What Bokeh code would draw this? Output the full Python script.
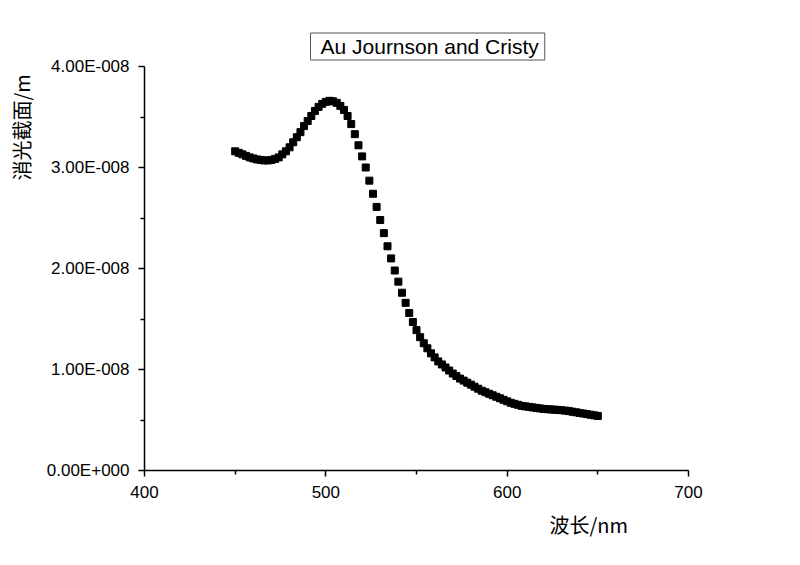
from bokeh.plotting import figure
from bokeh.models import (Range1d, FixedTicker, CustomJSTickFormatter, Title,
                          ColumnDataSource)
from bokeh.embed import file_html
from bokeh.resources import INLINE

# ---------------- data ----------------
wavelength_nm = list(range(450, 652, 2))
extinction_1e8 = [
    3.16, 3.145, 3.13, 3.115, 3.10, 3.09, 3.08, 3.075, 3.07, 3.07,
    3.075, 3.085, 3.10, 3.13, 3.16, 3.20, 3.25, 3.30, 3.35, 3.41,
    3.46, 3.51, 3.56, 3.60, 3.63, 3.65, 3.66, 3.655, 3.64, 3.61,
    3.57, 3.51, 3.43, 3.33, 3.22, 3.11, 3.00, 2.87, 2.74, 2.61,
    2.48, 2.35, 2.22, 2.10, 1.98, 1.87, 1.76, 1.66, 1.56, 1.47,
    1.39, 1.32, 1.26, 1.21, 1.16, 1.12, 1.08, 1.05, 1.02, 0.99,
    0.96, 0.935, 0.91, 0.89, 0.87, 0.85, 0.83, 0.81, 0.79, 0.775,
    0.76, 0.745, 0.73, 0.715, 0.70, 0.685, 0.67, 0.66, 0.65, 0.64,
    0.635, 0.63, 0.625, 0.62, 0.615, 0.61, 0.607, 0.605, 0.602, 0.60,
    0.597, 0.593, 0.588, 0.582, 0.576, 0.57, 0.564, 0.558, 0.552, 0.546,
    0.54,
]
extinction_m = [v * 1e-8 for v in extinction_1e8]

x_major_ticks = [400, 500, 600, 700]
x_minor_ticks = [450, 550, 650]
y_major_ticks = [0, 1e-8, 2e-8, 3e-8, 4e-8]
y_minor_ticks = [0.5e-8, 1.5e-8, 2.5e-8, 3.5e-8]

title_text = "Au Journson and Cristy"
x_label_text = "波长/nm"
y_label_text = "消光截面/m"

# ---------------- figure ----------------
p = figure(width=792, height=557, output_backend="svg", toolbar_location=None,
           x_range=Range1d(400, 700), y_range=Range1d(0, 4e-8),
           min_border_left=144, min_border_right=104,
           min_border_top=66, min_border_bottom=87)
p.outline_line_color = None
p.xgrid.grid_line_color = None
p.ygrid.grid_line_color = None
p.background_fill_color = "white"
p.border_fill_color = "white"

src = ColumnDataSource(dict(x=wavelength_nm, y=extinction_m))
p.scatter("x", "y", source=src, marker="square", size=7,
          fill_color="black", line_color="black")

for ax in (p.xaxis[0], p.yaxis[0]):
    ax.axis_line_width = 1.5
    ax.axis_line_color = "black"
    ax.major_tick_line_width = 1.5
    ax.minor_tick_line_width = 1.5
    ax.major_tick_line_color = "black"
    ax.minor_tick_line_color = "black"
    ax.major_tick_in = 0
    ax.major_tick_out = 6
    ax.minor_tick_in = 0
    ax.minor_tick_out = 4
    ax.major_label_text_font = "Liberation Sans"
    ax.major_label_text_font_size = "17px"
    ax.major_label_text_color = "black"

p.xaxis[0].ticker = FixedTicker(ticks=x_major_ticks, minor_ticks=x_minor_ticks)
p.yaxis[0].ticker = FixedTicker(ticks=y_major_ticks, minor_ticks=y_minor_ticks)
p.xaxis[0].major_label_standoff = 9
p.yaxis[0].major_label_standoff = 9

p.yaxis[0].formatter = CustomJSTickFormatter(code="""
    if (tick === 0) { return "0.00E+000"; }
    const e = Math.floor(Math.log10(Math.abs(tick)) + 1e-9);
    const m = tick / Math.pow(10, e);
    const s = e < 0 ? "-" : "+";
    return m.toFixed(2) + "E" + s + String(Math.abs(e)).padStart(3, "0");
""")

# title box
p.add_layout(Title(text=title_text, align="left", offset=166,
                   text_font="Liberation Sans", text_font_size="21px",
                   text_font_style="normal", text_color="black",
                   border_line_color="#555555", border_line_width=1,
                   background_fill_color="white",
                   padding=dict(left=10, right=6, top=2, bottom=2),
                   standoff=13),
             "above")

# axis labels
p.add_layout(Title(text=x_label_text, align="left", offset=405,
                   text_font="Noto Sans CJK SC", text_font_size="20px",
                   text_font_style="normal", text_color="black",
                   standoff=14),
             "below")
p.add_layout(Title(text=y_label_text, align="left", offset=290,
                   vertical_align="top",
                   text_font="Noto Sans CJK SC", text_font_size="20px",
                   text_font_style="normal", text_color="black",
                   standoff=12),
             "left")

open("out.html", "w").write(file_html(p, INLINE))
